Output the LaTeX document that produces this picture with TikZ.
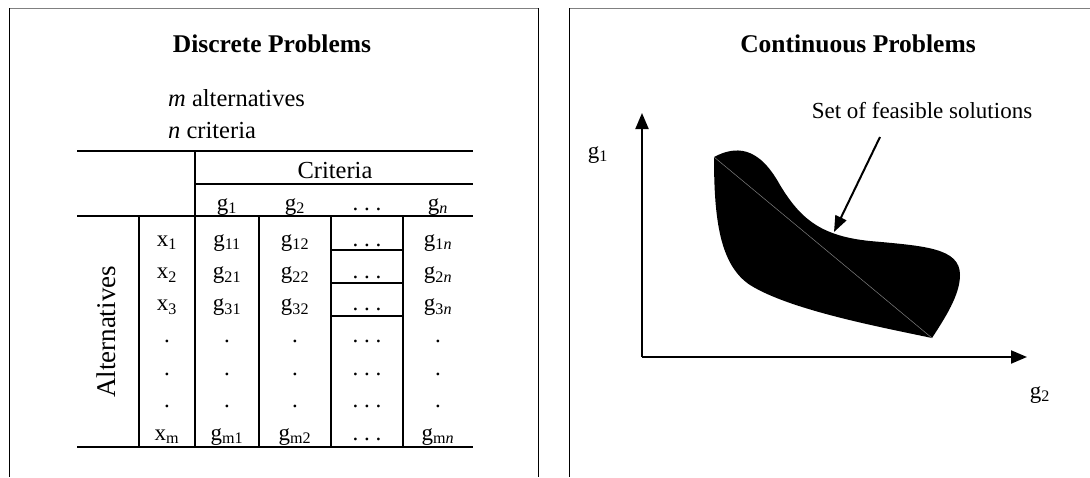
\documentclass[tikz,border=0pt]{standalone}
\usepackage{fontspec}
\setmainfont{Liberation Serif}
\usetikzlibrary{arrows.meta, positioning}

\newcommand{\gs}[1]{g\textsubscript{#1}}
\newcommand{\hdots}{\mbox{.\ .\ .}}

\begin{document}
\begin{tikzpicture}[
    x=1pt, y=-1pt,
    title/.style={font=\fontsize{25.5}{30}\selectfont\bfseries, anchor=base, inner sep=0pt},
    txt/.style={font=\fontsize{24.5}{28}\selectfont, anchor=base west, inner sep=0pt},
    cell/.style={font=\fontsize{23}{26}\selectfont, anchor=base, inner sep=0pt},
    rule/.style={line width=2.5pt},
    sep/.style={line width=2pt},
    frame/.style={line width=1pt},
    axis/.style={line width=2pt, -{Triangle[length=16pt, width=13pt]}},
    pointer/.style={line width=2pt, -{Triangle[length=16pt, width=12pt]}}
]
    \useasboundingbox (0,0) rectangle (1090,477);

    % panel frames
    \draw[frame, gray] (9,8) -- (538,8);
    \draw[frame] (9,8) -- (9,477);
    \draw[frame] (538,8) -- (538,477);
    \draw[frame, gray] (569,8) -- (1090,8);
    \draw[frame] (569,8) -- (569,477);

    % discrete problems
    \node[title] (dtitle) at (272,52) {Discrete Problems};
    \node[txt] (malt) at (168,106) {\textit{m} alternatives};
    \node[txt] (ncrit) at (168,138) {\textit{n} criteria};

    \draw[rule] (77,151) -- (473,151);
    \draw[sep] (195,184) -- (473,184);
    \draw[rule] (77,216) -- (473,216);
    \draw[rule] (77,447) -- (473,447);
    \draw[sep] (195,151) -- (195,447);
    \foreach \x in {139,259,331,403}
        \draw[sep] (\x,216) -- (\x,447);
    \foreach \y in {250,283,316}
        \draw[sep] (331,\y) -- (403,\y);

    \node[cell, font=\fontsize{24.5}{28}\selectfont] (crit) at (335,178) {Criteria};
    \node[cell] (h1) at (227,210) {\gs{1}};
    \node[cell] (h2) at (295,210) {\gs{2}};
    \node[cell] (h3) at (367,210) {\hdots};
    \node[cell] (hn) at (438,210) {\gs{\textit{n}}};

    \node[font=\fontsize{27}{30}\selectfont, rotate=90] (alts) at (106,332) {Alternatives};

    % rows of the matrix
    \foreach \i/\r in {1/1,2/2,3/3}{
        \node[cell] (x\i) at (167,246+32.3*\i-32.3) {x\textsubscript{\r}};
        \node[cell] (a\i) at (227,246+32.3*\i-32.3) {\gs{\r1}};
        \node[cell] (b\i) at (295,246+32.3*\i-32.3) {\gs{\r2}};
        \node[cell] (c\i) at (367,246+32.3*\i-32.3) {\hdots};
        \node[cell] (d\i) at (438,246+32.3*\i-32.3) {\gs{\r\textit{n}}};
    }
    \foreach \i in {4,5,6}{
        \node[cell] (x\i) at (167,246+32.3*\i-32.3) {.};
        \node[cell] (a\i) at (227,246+32.3*\i-32.3) {.};
        \node[cell] (b\i) at (295,246+32.3*\i-32.3) {.};
        \node[cell] (c\i) at (367,246+32.3*\i-32.3) {\hdots};
        \node[cell] (d\i) at (438,246+32.3*\i-32.3) {.};
    }
    \node[cell] (x7) at (167,440) {x\textsubscript{m}};
    \node[cell] (a7) at (227,440) {\gs{m1}};
    \node[cell] (b7) at (295,440) {\gs{m2}};
    \node[cell] (c7) at (367,440) {\hdots};
    \node[cell] (d7) at (438,440) {\gs{m\textit{n}}};

    % continuous problems
    \node[title] (ctitle) at (858,52) {Continuous Problems};

    \coordinate (o) at (642,357);
    \coordinate (ytip) at (642,113);
    \coordinate (xtip) at (1027,357);
    \draw[axis] (o) -- (ytip);
    \draw[axis] (o) -- (xtip);
    \node[cell] (g1) at (598,158) {\gs{1}};
    \node[cell] (g2) at (1040,398) {\gs{2}};

    \coordinate (corner) at (714,157);
    \coordinate (tip) at (932,338);
    \fill (corner) .. controls (735,146) and (758,145) .. (780,185)
        .. controls (800,218) and (820,236) .. (870,241)
        .. controls (925,246) and (960,248) .. (960,275)
        .. controls (960,295) and (945,318) .. (tip)
        .. controls (880,327) and (790,310) .. (750,285)
        .. controls (720,265) and (714,220) .. cycle;
    \draw[gray, line width=0.5pt] (corner) -- (tip);

    \node[font=\fontsize{23}{26}\selectfont, inner sep=0pt] (feas) at (922,111) {Set of feasible solutions};
    \coordinate (ptail) at (880,137);
    \coordinate (phead) at (834,232);
    \draw[pointer] (ptail) -- (phead);
\end{tikzpicture}
\end{document}
